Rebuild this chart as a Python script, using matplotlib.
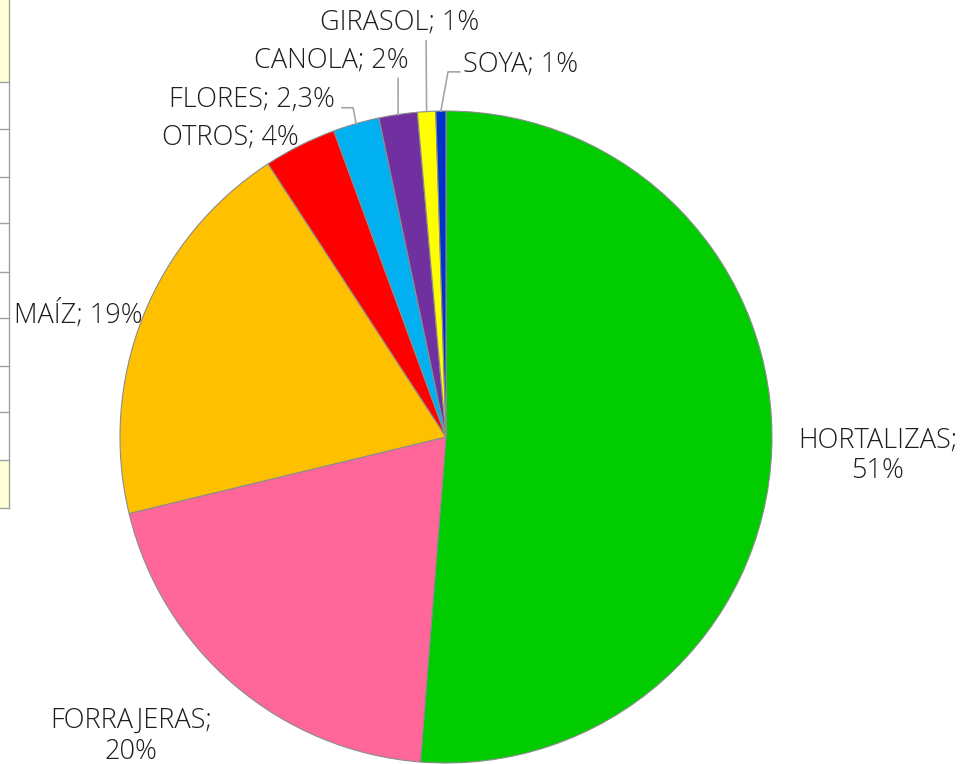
#!/usr/bin/env python3
"""Pie chart: superficie por cultivo."""
import matplotlib
matplotlib.use('Agg')
import matplotlib.pyplot as plt
import numpy as np

plt.rcParams.update({
    'font.family': ['Open Sans', 'DejaVu Sans'],
    'font.size': 19.5,
})

categories = ['HORTALIZAS', 'FORRAJERAS', 'MAÍZ', 'OTROS', 'FLORES', 'CANOLA', 'GIRASOL', 'SOYA']
values = [51.3, 20.0, 19.6, 3.6, 2.3, 1.9, 0.9, 0.5]
pct_labels = ['51%', '20%', '19%', '4%', '2,3%', '2%', '1%', '1%']
colors = ['#00CC00', '#FF6699', '#FFC000', '#FF0000', '#00B0F0', '#7030A0', '#FFFF00', '#0033CC']

# label layout (data units, radius = 1)
label_pos = [(1.325, -0.058), (-0.966, -0.917), (-1.129, 0.374), (-0.660, 0.917),
             (-0.595, 1.034), (-0.353, 1.153), (-0.141, 1.270), (0.230, 1.141)]
two_line = [True, True, False, False, False, False, False, False]
# leader line elbows (None = no leader)
leaders = [None, None, None, None,
           [(-0.319, 1.010), (-0.285, 1.010)],
           [(-0.147, 1.100)],
           [(-0.061, 1.215)],
           [(0.042, 1.120), (0.006, 1.120)]]

fig = plt.figure(figsize=(9.63, 7.64), dpi=100)
ax = fig.add_axes([0, 0, 1, 1])
ax.axis('off')

wedges, _ = ax.pie(values, colors=colors, startangle=90, counterclock=False,
                   radius=1.0, center=(0, 0),
                   wedgeprops=dict(edgecolor='#8C8C8C', linewidth=0.8))
ax.set_xlim(-446 / 326, (963 - 446) / 326)
ax.set_ylim(-(764 - 437) / 326, 437 / 326)
ax.set_aspect('auto')

for w, cat, pct, pos, tl, ld in zip(wedges, categories, pct_labels, label_pos, two_line, leaders):
    txt = f'{cat};\n{pct}' if tl else f'{cat}; {pct}'
    ax.text(pos[0], pos[1], txt, ha='center', va='center', color='#1E1E1E',
            fontweight='light', linespacing=1.15)
    if ld is not None:
        mid = np.deg2rad((w.theta1 + w.theta2) / 2)
        edge = (np.cos(mid), np.sin(mid))
        pts = ld + [edge]
        xs, ys = zip(*pts)
        ax.plot(xs, ys, color='#A6A6A6', linewidth=1.2)

# fragment of a table at the left edge
H = 764
row_lines = [82, 129, 177, 223, 272, 318, 366, 412, 460, 508]
fig.patches.append(plt.Rectangle((0, 1 - 82 / H), 9 / 963, 82 / H, transform=fig.transFigure,
                                 facecolor='#FFFFD5', edgecolor='none'))
fig.patches.append(plt.Rectangle((0, 1 - 508 / H), 9 / 963, 48 / H, transform=fig.transFigure,
                                 facecolor='#FFFFD5', edgecolor='none'))
for yl in row_lines:
    fig.add_artist(plt.Line2D([0, 9 / 963], [1 - yl / H, 1 - yl / H], transform=fig.transFigure,
                              color='#A0A0A0', linewidth=1))
fig.add_artist(plt.Line2D([9 / 963, 9 / 963], [1, 1 - 508 / H], transform=fig.transFigure,
                          color='#A0A0A0', linewidth=1))

plt.savefig('out.png', dpi=100)
plt.close()
